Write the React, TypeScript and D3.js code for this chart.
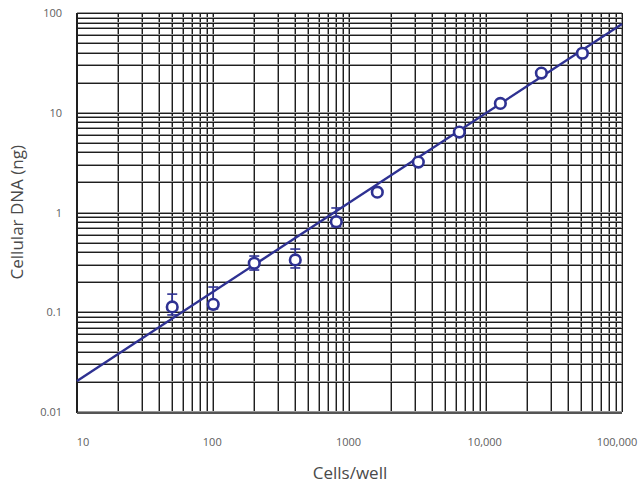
import { useEffect, useRef } from "react";
import * as d3 from "d3";

const cells = [50, 100, 200, 400, 800, 1600, 3200, 6400, 12800, 25600, 51200];
const dna = [0.113, 0.12, 0.31, 0.335, 0.81, 1.6, 3.2, 6.4, 12.4, 25, 39.5];
const errHi = [0.152, 0.179, 0.366, 0.43, 1.11, 1.65, 3.3, 6.6, 12.8, 25.8, 40.5];
const errLo = [0.094, 0.108, 0.265, 0.278, 0.72, 1.55, 3.1, 6.2, 12.0, 24.2, 38.5];
const fitX = [10, 100000];
const fitY = [0.0205, 77.6];
const xTicks = [10, 100, 1000, 10000, 100000];
const xTickLabels = ["10", "100", "1000", "10,000", "100,000"];
const yTicks = [0.01, 0.1, 1, 10, 100];
const yTickLabels = ["0.01", "0.1", "1", "10", "100"];

const BLUE = "#2e3192";

export default function App(): JSX.Element {
  const ref = useRef<SVGSVGElement | null>(null);

  useEffect(() => {
    if (!ref.current) return;
    const width = 640;
    const height = 483;
    const m = { left: 77, right: 18, top: 13, bottom: 71 };

    const x = d3.scaleLog().domain([10, 100000]).range([m.left, width - m.right]);
    const y = d3.scaleLog().domain([0.01, 100]).range([height - m.bottom, m.top]);

    const svg = d3.select(ref.current);
    svg.selectAll("*").remove();

    const minor = (lo: number, hi: number) => {
      const out: number[] = [];
      for (let d = lo; d < hi; d *= 10) for (let k = 1; k <= 10; k++) out.push(d * k);
      return Array.from(new Set(out.map((v) => +v.toPrecision(6))));
    };
    const xs = minor(10, 100000);
    const ys = minor(0.01, 100);

    const grid = svg.append("g").attr("shape-rendering", "crispEdges");
    // gray shadow then dark line, as in the scanned grid
    grid
      .selectAll("line.vs")
      .data(xs)
      .join("line")
      .attr("x1", (d) => Math.round(x(d)) - 1)
      .attr("x2", (d) => Math.round(x(d)) - 1)
      .attr("y1", y(0.01))
      .attr("y2", y(100))
      .attr("stroke", "#9a9a9a");
    grid
      .selectAll("line.v")
      .data(xs)
      .join("line")
      .attr("x1", (d) => Math.round(x(d)))
      .attr("x2", (d) => Math.round(x(d)))
      .attr("y1", y(0.01))
      .attr("y2", y(100))
      .attr("stroke", "#1e1e1e");
    grid
      .selectAll("line.hs")
      .data(ys)
      .join("line")
      .attr("y1", (d) => Math.round(y(d)) - 1)
      .attr("y2", (d) => Math.round(y(d)) - 1)
      .attr("x1", x(10))
      .attr("x2", x(100000))
      .attr("stroke", "#9a9a9a");
    grid
      .selectAll("line.h")
      .data(ys)
      .join("line")
      .attr("y1", (d) => Math.round(y(d)))
      .attr("y2", (d) => Math.round(y(d)))
      .attr("x1", x(10))
      .attr("x2", x(100000))
      .attr("stroke", "#1e1e1e");

    // heavier left and bottom frame
    grid
      .append("line")
      .attr("x1", x(10))
      .attr("x2", x(10))
      .attr("y1", y(0.01) + 1)
      .attr("y2", y(100))
      .attr("stroke", "#1e1e1e")
      .attr("stroke-width", 2);
    grid
      .append("line")
      .attr("x1", x(10))
      .attr("x2", x(100000))
      .attr("y1", y(0.01) + 1)
      .attr("y2", y(0.01) + 1)
      .attr("stroke", "#555")
      .attr("stroke-width", 2);

    // fit line
    const line = d3
      .line<number>()
      .x((_, i) => x(fitX[i]))
      .y((d) => y(d));
    svg
      .append("path")
      .attr("d", line(fitY))
      .attr("fill", "none")
      .attr("stroke", BLUE)
      .attr("stroke-width", 2.4);

    // error bars
    const eb = svg.append("g").attr("stroke", BLUE).attr("stroke-width", 1.6);
    cells.forEach((c, i) => {
      const cx = x(c);
      eb.append("line").attr("x1", cx).attr("x2", cx).attr("y1", y(errHi[i])).attr("y2", y(errLo[i]));
      eb.append("line").attr("x1", cx - 5).attr("x2", cx + 5).attr("y1", y(errHi[i])).attr("y2", y(errHi[i]));
      eb.append("line").attr("x1", cx - 5).attr("x2", cx + 5).attr("y1", y(errLo[i])).attr("y2", y(errLo[i]));
    });

    svg
      .append("g")
      .selectAll("circle")
      .data(cells)
      .join("circle")
      .attr("cx", (d) => x(d))
      .attr("cy", (_, i) => y(dna[i]))
      .attr("r", 5.3)
      .attr("fill", "#fff")
      .attr("stroke", BLUE)
      .attr("stroke-width", 2.6);

    const font = "'Open Sans', 'DejaVu Sans', sans-serif";

    svg
      .append("g")
      .selectAll("text")
      .data(xTicks)
      .join("text")
      .attr("x", (d, i) => (i === 0 ? x(d) + 6 : i === xTicks.length - 1 ? x(d) - 5 : x(d) - 1))
      .attr("y", 446)
      .attr("text-anchor", "middle")
      .attr("font-family", font)
      .attr("font-size", 11)
      .attr("fill", "#606060")
      .text((_, i) => xTickLabels[i]);

    svg
      .append("g")
      .selectAll("text")
      .data(yTicks)
      .join("text")
      .attr("x", 62)
      .attr("y", (d) => y(d) + 4)
      .attr("text-anchor", "end")
      .attr("font-family", font)
      .attr("font-size", 11)
      .attr("fill", "#606060")
      .text((_, i) => yTickLabels[i]);

    svg
      .append("text")
      .attr("x", 350)
      .attr("y", 479)
      .attr("text-anchor", "middle")
      .attr("font-family", font)
      .attr("font-size", 17)
      .attr("fill", "#4a4a4a")
      .text("Cells/well");

    svg
      .append("text")
      .attr("transform", `translate(23,${y(0.1) - 100}) rotate(-90)`)
      .attr("text-anchor", "middle")
      .attr("font-family", font)
      .attr("font-size", 17)
      .attr("fill", "#4a4a4a")
      .text("Cellular DNA (ng)");
  }, []);

  return (
    <svg
      ref={ref}
      width={640}
      height={483}
      style={{ position: "absolute", left: 0, top: 0, background: "#fff" }}
    />
  );
}
